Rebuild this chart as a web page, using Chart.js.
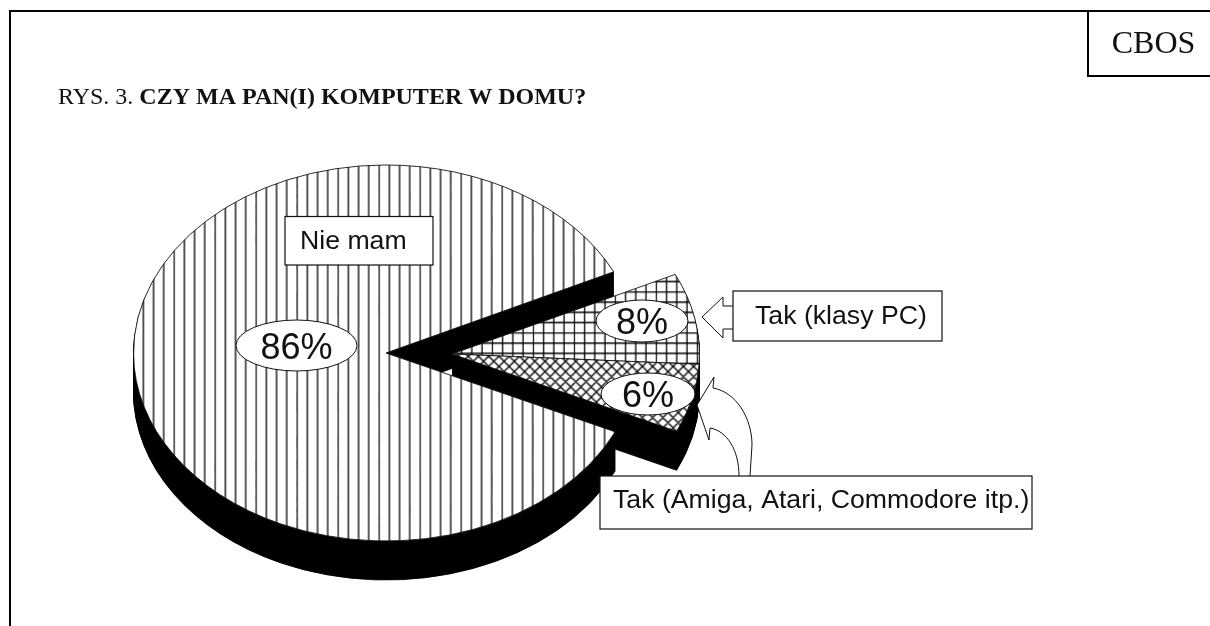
<!DOCTYPE html>
<html>
<head>
<meta charset="utf-8">
<style>
  html, body { margin: 0; padding: 0; background: #fff; }
  canvas { display: block; }
</style>
<script src="https://cdn.jsdelivr.net/npm/chart.js@4"></script>
</head>
<body>
<canvas id="pie" width="1210" height="626"></canvas>
<script>
const categories = ['Nie mam', 'Tak (klasy PC)', 'Tak (Amiga, Atari, Commodore itp.)'];
const shares = [86, 8, 6];
const titleRegular = 'RYS. 3. ';
const titleBold = 'CZY MA PAN(I) KOMPUTER W DOMU?';
const sourceLabel = 'CBOS';

const SANS = '"Liberation Sans", Arial, sans-serif';
const SERIF = '"Liberation Serif", "Times New Roman", serif';
const SQUASH = 0.7446;    // flatten the round pie into the tilted ellipse
const PIE_Y = 353;        // where the pie centre sits on the page
const DEPTH = 39;
const EXPLODE_X = 66;     // both "Tak" slices move out together
const EXPLODE_Y = 1;
const EXPLODE_SIZE = 0.98;

// 41px tile holds 4 lines = 10.25px spacing. y is stretched back because the pie gets squashed.
function makeTile(paint, phaseX, phaseY, zoom) {
    const tile = document.createElement('canvas');
    tile.width = 41; tile.height = 41;
    const t = tile.getContext('2d');
    t.fillStyle = '#fff'; t.fillRect(0, 0, 41, 41);
    t.strokeStyle = '#000'; t.lineWidth = 1.3;
    t.beginPath();
    paint(t);
    t.stroke();
    const pattern = document.createElement('canvas').getContext('2d').createPattern(tile, 'repeat');
    pattern.setTransform(new DOMMatrix([zoom, 0, 0, zoom / SQUASH, phaseX, phaseY]));
    return pattern;
}
const vertical = t => { for (let i = 0; i < 4; i++) { t.moveTo(i * 10.25 + 0.5, 0); t.lineTo(i * 10.25 + 0.5, 41); } };
const horizontal = t => { for (let i = 0; i < 4; i++) { t.moveTo(0, i * 10.25 + 0.5); t.lineTo(41, i * 10.25 + 0.5); } };
const crossed = t => {
    for (let i = -4; i < 8; i++) {
        t.moveTo(i * 10.25, 0); t.lineTo(i * 10.25 + 41, 41);
        t.moveTo(i * 10.25, 41); t.lineTo(i * 10.25 + 41, 0);
    }
};
const hatches = [
    makeTile(vertical, 9.5, 0, 1),
    makeTile(t => { vertical(t); horizontal(t); }, 8.4, 2.5, 1.02),
    makeTile(crossed, 0, 0, 1.02)
];

function drawArc(ctx, arc, dx, dy, size, solid) {
    ctx.save();
    ctx.translate(arc.x + dx, PIE_Y + dy);
    ctx.scale(size, size * SQUASH);
    ctx.translate(-arc.x, -arc.y);
    if (solid) {
        const shown = arc.options;
        arc.options = Object.create(shown, {
            backgroundColor: { value: '#000' },
            borderColor: { value: '#000' }
        });
        arc.draw(ctx);
        arc.options = shown;
    } else {
        arc.draw(ctx);
    }
    ctx.restore();
}

// big slice face goes over the wall of the small ones, that's how the original overlaps
const pieView = {
    id: 'pieView',
    beforeDatasetDraw(chart, args) {
        const ctx = chart.ctx;
        const arcs = chart.getDatasetMeta(args.index).data;
        const small = arcs.slice(1);
        for (let d = DEPTH; d > 0; d--) drawArc(ctx, arcs[0], 0, d, 1, true);
        for (let d = DEPTH; d > 0; d--) {
            small.forEach(a => drawArc(ctx, a, EXPLODE_X, EXPLODE_Y + d, EXPLODE_SIZE, true));
        }
        drawArc(ctx, arcs[0], 0, 0, 1, false);
        small.forEach(a => drawArc(ctx, a, EXPLODE_X, EXPLODE_Y, EXPLODE_SIZE, false));
        return false;
    }
};

function tracePoints(ctx, points) {
    points.forEach((p, i) => i ? ctx.lineTo(p[0], p[1]) : ctx.moveTo(p[0], p[1]));
}

function percentBubble(ctx, x, y, rx, ry, value) {
    ctx.beginPath();
    ctx.ellipse(x, y, rx, ry, 0, 0, Math.PI * 2);
    ctx.fillStyle = '#fff'; ctx.fill();
    ctx.lineWidth = 1; ctx.strokeStyle = '#111'; ctx.stroke();
    ctx.fillStyle = '#111';
    ctx.font = '36px ' + SANS;
    ctx.textAlign = 'center';
    ctx.fillText(value + '%', x, y + 13);
    ctx.textAlign = 'left';
}

function labelBox(ctx, left, top, right, bottom, text, textX, baseline) {
    ctx.fillStyle = '#fff';
    ctx.fillRect(left, top, right - left, bottom - top);
    ctx.lineWidth = 1.2; ctx.strokeStyle = '#111';
    ctx.strokeRect(left, top, right - left, bottom - top);
    ctx.fillStyle = '#111';
    ctx.font = '26.67px ' + SANS;
    ctx.fillText(text, textX, baseline);
}

const annotations = {
    id: 'annotations',
    afterDatasetsDraw(chart) {
        const ctx = chart.ctx;
        ctx.save();
        ctx.textBaseline = 'alphabetic';

        // page frame and the source box
        ctx.strokeStyle = '#000'; ctx.lineWidth = 2;
        ctx.beginPath();
        ctx.moveTo(10, 626); ctx.lineTo(10, 11); ctx.lineTo(1210, 11);
        ctx.moveTo(1088, 11); ctx.lineTo(1088, 76); ctx.lineTo(1210, 76);
        ctx.stroke();
        ctx.fillStyle = '#111';
        ctx.font = '32px ' + SERIF;
        ctx.textAlign = 'center';
        ctx.fillText(sourceLabel, 1153.5, 52.5);
        ctx.textAlign = 'left';

        // title
        ctx.font = '24px ' + SERIF;
        ctx.fillText(titleRegular, 58, 104);
        const boldX = 58 + ctx.measureText(titleRegular).width;
        ctx.font = 'bold 24px ' + SERIF;
        ctx.fillText(titleBold, boldX, 104);

        percentBubble(ctx, 296.5, 345.5, 60.5, 25.5, shares[0]);
        percentBubble(ctx, 642, 321, 46, 21, shares[1]);
        percentBubble(ctx, 648, 394, 47, 21, shares[2]);

        // block arrow to the PC slice
        ctx.beginPath();
        tracePoints(ctx, [[733, 306], [723, 306], [723, 297], [702, 317], [723, 338], [723, 329], [733, 329]]);
        ctx.fillStyle = '#fff'; ctx.fill();
        ctx.lineWidth = 1; ctx.strokeStyle = '#111'; ctx.stroke();

        // curved arrow to the Amiga slice
        ctx.beginPath();
        ctx.moveTo(739, 476);
        ctx.bezierCurveTo(739, 450, 727, 431, 710, 428);
        ctx.lineTo(709, 440);
        ctx.lineTo(697, 405);
        ctx.lineTo(714, 377);
        ctx.lineTo(713, 388);
        ctx.bezierCurveTo(736, 392, 752, 418, 752, 445);
        ctx.lineTo(750, 476);
        ctx.fillStyle = '#fff'; ctx.fill();
        ctx.stroke();

        labelBox(ctx, 285, 216.5, 433, 265, categories[0], 300, 249);
        labelBox(ctx, 733, 291, 942, 341, categories[1], 755, 324);
        labelBox(ctx, 600, 476, 1032, 529, categories[2], 613, 508);
        ctx.restore();
    }
};

new Chart(document.getElementById('pie'), {
    type: 'pie',
    data: {
        labels: categories,
        datasets: [{
            data: shares,
            backgroundColor: hatches,
            borderColor: '#111',
            borderWidth: 1
        }]
    },
    options: {
        responsive: false,
        animation: false,
        rotation: 114.8,
        layout: { padding: { left: 133, right: 571, top: 58, bottom: 58 } },
        plugins: { legend: { display: false }, tooltip: { enabled: false } }
    },
    plugins: [pieView, annotations]
});
</script>
</body>
</html>
